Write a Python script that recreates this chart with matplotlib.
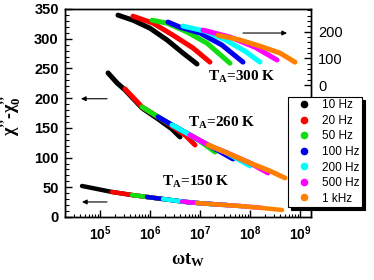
import matplotlib
matplotlib.use("Agg")
import matplotlib.pyplot as plt
from matplotlib.lines import Line2D
from matplotlib.ticker import FixedLocator, LogLocator, NullFormatter

plt.rcParams['font.family'] = ['Liberation Sans', 'DejaVu Sans']
plt.rcParams['mathtext.fontset'] = 'custom'
plt.rcParams['mathtext.rm'] = 'Liberation Sans:bold'
plt.rcParams['mathtext.bf'] = 'Liberation Serif:bold'
plt.rcParams['mathtext.it'] = 'Liberation Serif:bold:italic'
plt.rcParams['mathtext.default'] = 'bf'

freqs = ['10 Hz', '20 Hz', '50 Hz', '100 Hz', '200 Hz', '500 Hz', '1 kHz']
colors = ['#000000', '#ff0000', '#11dd11', '#0000ee', '#00ffff', '#ff00ff', '#ff8000']

# T_A = 300 K  (right axis)
x300 = [
    [2.29e5, 4.57e5, 1.0e6, 2.19e6, 4.57e6, 8.71e6],
    [4.57e5, 1.15e6, 2.88e6, 7.24e6, 1.58e7],
    [1.10e6, 2.19e6, 5.5e6, 1.38e7, 3.98e7],
    [2.29e6, 3.98e6, 1.0e7, 2.75e7, 7.24e7],
    [4.57e6, 1.26e7, 3.16e7, 7.94e7, 1.58e8],
    [1.15e7, 3.98e7, 1.26e8, 3.47e8],
    [2.29e7, 6.31e7, 1.58e8, 3.98e8, 7.94e8],
]
y300 = [
    [262, 243, 213, 169, 120, 79],
    [258, 232, 187, 139, 86],
    [243, 232, 199, 157, 82],
    [236, 217, 195, 150, 86],
    [221, 202, 170, 127, 86],
    [206, 180, 142, 94],
    [187, 169, 146, 120, 86],
]

# T_A = 260 K  (left axis)
x260 = [
    [1.45e5, 2.19e5, 3.16e5, 6.92e5, 1.45e6, 2.75e6, 3.98e6],
    [3.16e5, 6.92e5, 1.45e6, 2.75e6, 5.25e6, 7.94e6],
    [6.92e5, 1.45e6, 2.75e6, 8.71e6, 2.0e7],
    [1.45e6, 2.75e6, 8.71e6, 1.58e7, 4.57e7],
    [2.75e6, 8.71e6, 1.58e7, 3.16e7, 1.0e8],
    [6.31e6, 1.58e7, 3.16e7, 1.0e8, 2.29e8],
    [1.45e7, 3.16e7, 1.0e8, 2.51e8, 5.01e8],
]
y260 = [
    [242.4, 225.6, 213.8, 183.5, 165.0, 148.1, 134.7],
    [215.5, 185.2, 168.4, 153.2, 136.4, 121.2],
    [185.2, 168.4, 154.9, 131.3, 109.4],
    [168.4, 154.9, 131.3, 119.5, 97.6],
    [154.9, 131.3, 119.5, 109.4, 85.9],
    [138.0, 119.5, 109.4, 90.9, 74.1],
    [121.2, 109.4, 90.9, 77.4, 65.7],
]

# T_A = 150 K  (left axis)
x150 = [
    [4.37e4, 1.74e5, 4.37e5, 8.71e5, 1.74e6],
    [1.74e5, 4.37e5, 8.71e5, 1.82e6, 4.37e6, 6.92e6],
    [4.37e5, 8.71e5, 1.82e6, 4.37e6, 1.74e7],
    [8.71e5, 1.82e6, 4.37e6, 8.71e6, 3.47e7],
    [1.82e6, 4.37e6, 8.71e6, 2.51e7, 7.24e7],
    [4.37e6, 8.71e6, 2.51e7, 6.31e7, 1.74e8],
    [8.71e6, 2.51e7, 6.31e7, 1.74e8, 4.37e8],
]
y150 = [
    [52.2, 42.1, 37.0, 33.7, 30.3],
    [42.1, 37.0, 33.7, 30.3, 26.1, 23.6],
    [37.0, 33.7, 30.3, 26.1, 21.4],
    [33.7, 30.3, 26.1, 23.6, 20.2],
    [30.3, 26.1, 23.6, 20.7, 18.0],
    [26.1, 23.6, 20.7, 18.5, 15.2],
    [23.6, 20.7, 18.5, 15.2, 11.8],
]

xticks = [1e5, 1e6, 1e7, 1e8, 1e9]
xticklabels = [r'$\mathrm{10^{5}}$', r'$\mathrm{10^{6}}$', r'$\mathrm{10^{7}}$',
               r'$\mathrm{10^{8}}$', r'$\mathrm{10^{9}}$']

fig = plt.figure(figsize=(3.74, 2.80), dpi=100)
ax = fig.add_axes([65 / 374, 1 - 217 / 280, 246 / 374, 208 / 280])
ax2 = ax.twinx()

for xs, ys, c in zip(x150, y150, colors):
    ax.plot(xs, ys, color=c, lw=3.2, solid_capstyle='round', solid_joinstyle='round')
for xs, ys, c in zip(x260, y260, colors):
    ax.plot(xs, ys, color=c, lw=3.6, solid_capstyle='round', solid_joinstyle='round')
for xs, ys, c in zip(x300, y300, colors):
    ax2.plot(xs, ys, color=c, lw=3.6, solid_capstyle='round', solid_joinstyle='round')

ax.set_xscale('log')
ax.set_xlim(10 ** 4.3, 10 ** 9.22)
ax.set_ylim(0, 350)
ax2.set_ylim(-494, 285)

ax.set_xticks(xticks)
ax.set_xticklabels(xticklabels, fontsize=10)
ax.xaxis.set_minor_locator(LogLocator(base=10, subs=range(2, 10), numticks=20))
ax.xaxis.set_minor_formatter(NullFormatter())
ax.set_yticks(range(0, 351, 50))
ax.yaxis.set_minor_locator(FixedLocator(range(0, 351, 10)))
for lab in ax.get_yticklabels():
    lab.set_fontweight('bold')
    lab.set_fontsize(10.5)

ax.tick_params(axis='both', which='both', direction='in', top=False, right=False)
ax.tick_params(axis='y', which='major', length=5, width=1, pad=4.5)
ax.tick_params(axis='y', which='minor', length=3, width=0.8)
ax.tick_params(axis='x', which='major', length=5, width=1, pad=5)
ax.tick_params(axis='x', which='minor', length=2.5, width=0.8)

ax2.set_yticks([0, 100, 200])
ax2.yaxis.set_minor_locator(FixedLocator(range(0, 281, 20)))
ax2.tick_params(axis='y', which='major', direction='in', length=5, width=1, labelsize=10.5, pad=5)
ax2.tick_params(axis='y', which='minor', direction='in', length=3, width=0.8)

for a in (ax, ax2):
    for s in a.spines.values():
        s.set_linewidth(1.0)

ax.set_ylabel("$χ^{\u2019\u2019}$-$χ^{\u2019\u2019}_{0}$", fontsize=13,
              family='Liberation Serif', fontweight='bold')
ax.yaxis.set_label_coords(-0.17, 0.49)
ax.set_xlabel(r'$ωt_{W}$', fontsize=13, family='Liberation Serif', fontweight='bold')
ax.xaxis.set_label_coords(0.5, -0.165)

# annotations
tfont = dict(fontsize=11, family='Liberation Serif', fontweight='bold', va='center', ha='left')
ax.text(10 ** 7.16, 235, r'$T_{A}$=300 K', **tfont)
ax.text(10 ** 6.76, 158, r'$T_{A}$=260 K', **tfont)
ax.text(10 ** 6.24, 59, r'$T_{A}$=150 K', **tfont)

arrow = dict(arrowstyle='-|>', color='k', lw=0.8, mutation_scale=7, shrinkA=0, shrinkB=0)
ax2.annotate('', xy=(10 ** 8.74, 195), xytext=(10 ** 7.86, 195), arrowprops=arrow)
ax.annotate('', xy=(10 ** 4.62, 199), xytext=(10 ** 5.14, 199), arrowprops=arrow)
ax.annotate('', xy=(10 ** 4.64, 25.3), xytext=(10 ** 5.14, 25.3), arrowprops=arrow)

handles = [Line2D([], [], ls='none', marker='o', ms=4.5, color=c) for c in colors]
leg = ax2.legend(handles, freqs, loc='upper left', bbox_to_anchor=(288 / 374, 1 - 97 / 280),
                 bbox_transform=fig.transFigure, borderaxespad=0, fancybox=False,
                 edgecolor='k', framealpha=1, fontsize=8.5, labelspacing=0.3,
                 handlelength=2.3, handletextpad=0.4, borderpad=0.2,
                 shadow={'color': 'k', 'alpha': 1})
leg.get_frame().set_linewidth(0.8)

fig.savefig('out.png', dpi=100)
